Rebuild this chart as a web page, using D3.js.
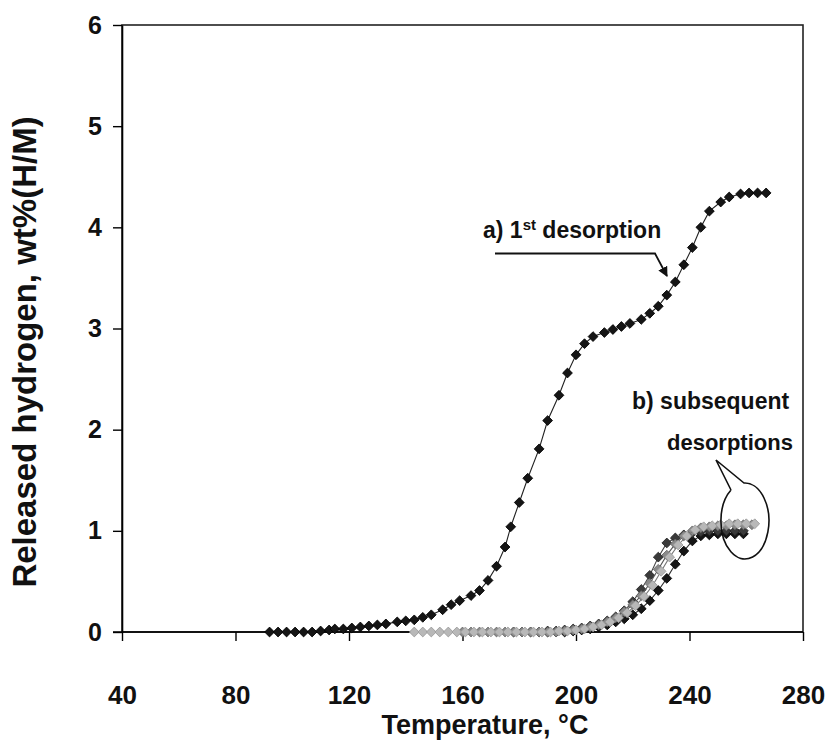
<!DOCTYPE html>
<html>
<head>
<meta charset="utf-8">
<script src="https://d3js.org/d3.v7.min.js"></script>
<style>
  body { margin: 0; background: #fff; }
  text { font-family: Arial, "Liberation Sans", sans-serif; font-weight: bold; fill: #111; }
</style>
</head>
<body>
<div id="my_dataviz"></div>
<script>
// set the dimensions and margins of the graph
var width = 832,
    height = 741,
    margin = {top: 25, right: 29, bottom: 109, left: 122}

// a) first desorption (temperature in C, released hydrogen in wt%)
var aTemp = [92,95,98,101,104,107,110,113,115,118,121,124,127,130,133,137,140,143,146,149,
             153,156,159,163,166,169,172,175,177,180,183,187,190,194,197,200,203,206,210,213,
             216,219,223,226,229,232,235,238,241,244,247,251,254,258,261,264,267]
var aVal  = [0,0,0,0,0,0,0.01,0.02,0.03,0.03,0.04,0.05,0.06,0.07,0.08,0.10,0.11,0.12,0.145,0.17,
             0.22,0.27,0.31,0.36,0.41,0.51,0.65,0.84,1.04,1.28,1.52,1.81,2.09,2.34,2.56,2.74,2.85,2.92,2.96,2.99,
             3.02,3.05,3.09,3.15,3.22,3.33,3.46,3.63,3.80,4.00,4.16,4.25,4.30,4.33,4.34,4.34,4.34]

// b) subsequent desorptions
var b1Temp = [178,181,184,187,190,193,196,199,202,205,208,211,214,217,220,223,226,229,232,235,238,241,244,247,250,253,256,259]
var b1Val  = [0,0,0,0,0.01,0.01,0.02,0.03,0.04,0.06,0.08,0.11,0.15,0.21,0.30,0.42,0.56,0.74,0.88,0.93,0.96,0.98,0.99,1.0,1.0,1.0,1.0,1.0]

var b2Temp = [160,163,166,169,172,175,178,181,184,187,190,193,196,199,202,205,208,211,214,217,220,223,226,229,232,235,238,241,244,247,250,253,256,259,262]
var b2Val  = [0,0,0,0,0,0,0,0,0,0,0,0,0.01,0.02,0.03,0.05,0.07,0.10,0.14,0.20,0.27,0.36,0.48,0.62,0.76,0.87,0.95,1.0,1.03,1.04,1.05,1.05,1.06,1.06,1.06]

var b3Temp = [143,146,149,152,155,158,161,164,167,170,173,176,179,182,185,188,191,194,197,200,203,206,209,212,215,218,221,224,227,230,233,236,239,242,245,248,251,254,257,260,263]
var b3Val  = [0,0,0,0,0,0,0,0,0,0,0,0,0,0,0,0,0,0.01,0.01,0.02,0.03,0.05,0.07,0.10,0.14,0.19,0.26,0.35,0.46,0.60,0.74,0.86,0.95,1.01,1.04,1.05,1.06,1.07,1.07,1.07,1.07]

var b4Temp = [190,193,196,199,202,205,208,211,214,217,220,223,226,229,232,235,238,241,244,247,250,253,256,259]
var b4Val  = [0,0,0,0.01,0.02,0.03,0.05,0.07,0.10,0.13,0.17,0.23,0.31,0.41,0.53,0.67,0.80,0.90,0.95,0.96,0.97,0.97,0.97,0.97]

var xTicks = [40,80,120,160,200,240,280]
var yTicks = [0,1,2,3,4,5,6]

var svg = d3.select("#my_dataviz")
  .append("svg")
    .attr("width", width)
    .attr("height", height)

var x = d3.scaleLinear().domain([40, 280]).range([margin.left, width - margin.right])
var y = d3.scaleLinear().domain([0, 6]).range([height - margin.bottom, margin.top])

// frame (top and right border)
svg.append("rect")
  .attr("x", x(40)).attr("y", y(6))
  .attr("width", x(280) - x(40)).attr("height", y(0) - y(6))
  .attr("fill", "none").attr("stroke", "#222").attr("stroke-width", 1.6)

// x axis, labels sit well below the axis in the original
var xAxis = svg.append("g")
  .attr("transform", "translate(0," + y(0) + ")")
  .call(d3.axisBottom(x).tickValues(xTicks).tickFormat(d3.format("d")).tickSize(9).tickPadding(45).tickSizeOuter(0))
xAxis.select(".domain").attr("stroke-width", 1.6).attr("d", "M" + (x(40) - 9) + ",0H" + x(280))
xAxis.selectAll("line").attr("stroke-width", 1.4)
xAxis.selectAll("text").style("font-size", "26px").attr("fill", "#111")

// y axis
var yAxis = svg.append("g")
  .attr("transform", "translate(" + x(40) + ",0)")
  .call(d3.axisLeft(y).tickValues(yTicks).tickFormat(d3.format("d")).tickSize(9).tickPadding(11).tickSizeOuter(0))
yAxis.select(".domain").attr("stroke-width", 1.6)
yAxis.selectAll("line").attr("stroke-width", 1.4)
yAxis.selectAll("text").style("font-size", "25px").attr("fill", "#111")

// axis titles
svg.append("text")
  .attr("x", 485).attr("y", 734)
  .attr("text-anchor", "middle")
  .style("font-size", "27px")
  .text("Temperature, °C")

svg.append("text")
  .attr("transform", "translate(36,352) rotate(-90)")
  .attr("text-anchor", "middle")
  .style("font-size", "33px")
  .text("Released hydrogen, wt%(H/M)")

var line = d3.line().x(d => x(d.t)).y(d => y(d.v))
var diamond = d3.symbol().type(d3.symbolSquare).size(48)

function zip(ts, vs) { return ts.map((t, i) => ({t: t, v: vs[i]})) }

function drawSeries(ts, vs, fill, stroke, lineColor) {
  var data = zip(ts, vs)
  svg.append("path")
    .datum(data)
    .attr("d", line)
    .attr("fill", "none")
    .attr("stroke", lineColor)
    .attr("stroke-width", 1.1)
  svg.append("g")
    .selectAll("path")
    .data(data)
    .enter()
    .append("path")
      .attr("d", diamond)
      .attr("transform", d => "translate(" + x(d.t) + "," + y(d.v) + ") rotate(45)")
      .attr("fill", fill)
      .attr("stroke", stroke)
      .attr("stroke-width", 0.8)
}

// subsequent desorptions first, then the first one on top
drawSeries(b4Temp, b4Val, "#151515", "#000", "#333")
drawSeries(b1Temp, b1Val, "#3a3a3a", "#222", "#444")
drawSeries(b2Temp, b2Val, "#8a8a8a", "#666", "#555")
drawSeries(b3Temp, b3Val, "#b8b8b8", "#999", "#777")
drawSeries(aTemp, aVal, "#151515", "#000", "#222")

// annotation a)
var la = svg.append("text").attr("x", 483).attr("y", 238).style("font-size", "23px")
la.append("tspan").text("a) 1")
la.append("tspan").attr("dy", -8).style("font-size", "15px").text("st")
la.append("tspan").attr("dy", 8).text(" desorption")

svg.append("defs").append("marker")
  .attr("id", "arrow")
  .attr("viewBox", "0 0 10 10")
  .attr("refX", 9).attr("refY", 5)
  .attr("markerWidth", 10).attr("markerHeight", 10)
  .attr("markerUnits", "userSpaceOnUse")
  .attr("orient", "auto")
  .append("path").attr("d", "M0,0L10,5L0,10z").attr("fill", "#111")

svg.append("path")
  .attr("d", "M495,253.5H655L667,276")
  .attr("fill", "none").attr("stroke", "#111").attr("stroke-width", 1.8)
  .attr("marker-end", "url(#arrow)")

// annotation b)
svg.append("text").attr("x", 632).attr("y", 409).style("font-size", "23px").text("b) subsequent")
svg.append("text").attr("x", 667).attr("y", 450).style("font-size", "22px").text("desorptions")

// callout bubble round the plateaus
svg.append("path")
  .attr("d", "M731,490 L716,460 L744,483 A24,38 0 1 1 731,490")
  .attr("fill", "none").attr("stroke", "#111").attr("stroke-width", 1.6)
</script>
</body>
</html>
